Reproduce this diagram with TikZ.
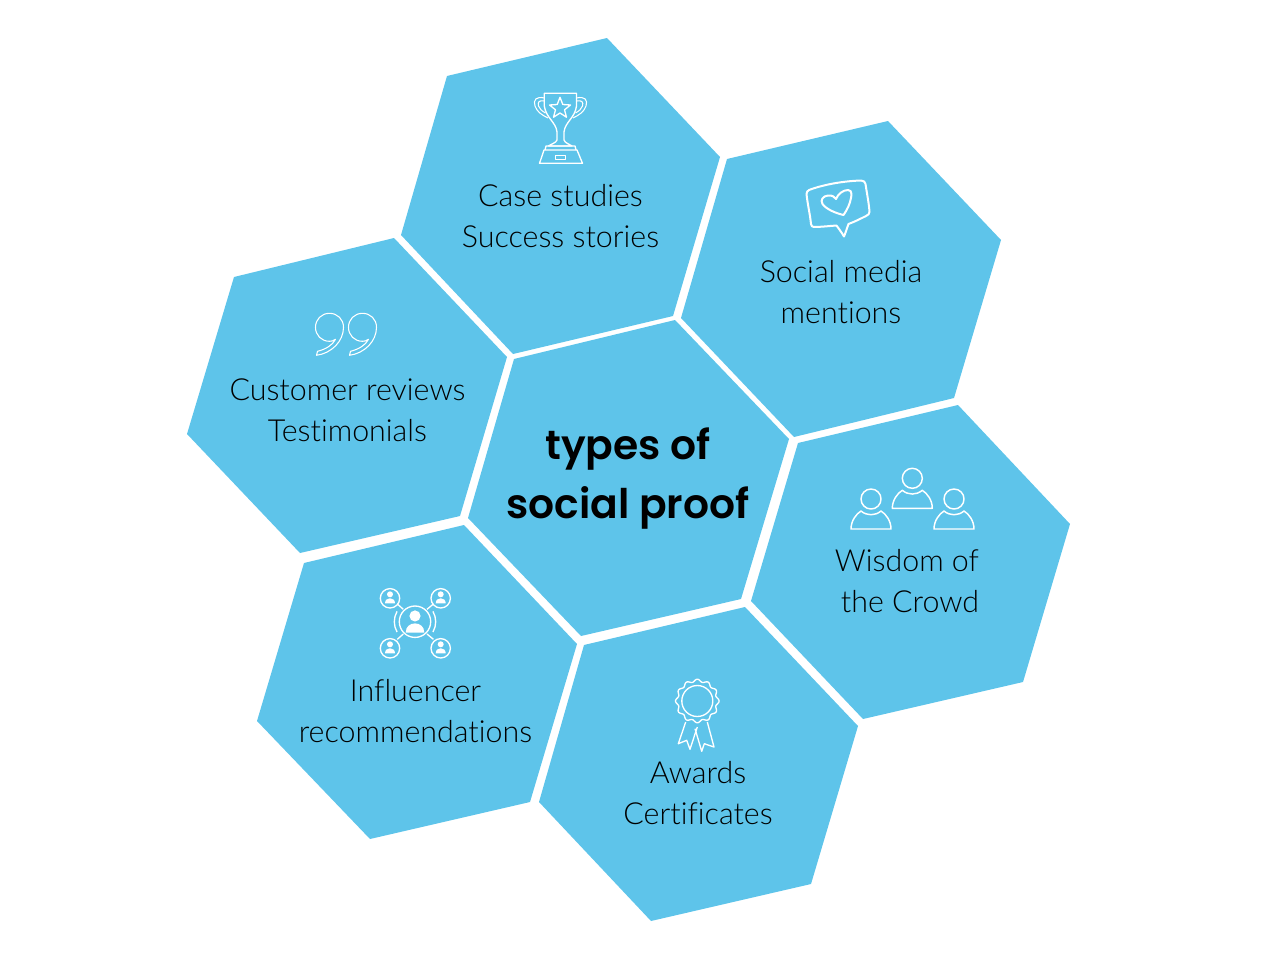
\documentclass[tikz,border=0pt]{standalone}
\usepackage{fontspec}
\setmainfont{Lato Light}[Ligatures=NoCommon]
\newfontfamily\titlefont{Poppins SemiBold}
\definecolor{cellblue}{HTML}{5EC4EA}
\newcommand{\personicon}[2]{%
	\draw[iconline, line width=1.1pt] (#1,#2) circle (10);
	\draw[iconline, line width=1.1pt] (#1-20,#2+30) .. controls (#1-20,#2+22) and (#1-15,#2+15) .. (#1-10,#2+12) .. controls (#1-4,#2+17) and (#1+4,#2+17) .. (#1+10,#2+12) .. controls (#1+15,#2+15) and (#1+20,#2+22) .. (#1+20,#2+30) -- cycle;
}
\newcommand{\tinyperson}[3]{%
	\fill[white] (#1,#2-0.8*#3) circle (0.6*#3);
	\fill[white] (#1-#3,#2+#3) .. controls (#1-#3,#2+0.3*#3) and (#1-0.5*#3,#2) .. (#1,#2) .. controls (#1+0.5*#3,#2) and (#1+#3,#2+0.3*#3) .. (#1+#3,#2+#3) -- cycle;
}
\newcommand{\quotemark}[2]{%
	\draw[iconthin] (#1-13,#2+28) .. controls (#1+2,#2+26) and (#1+14,#2+14) .. (#1+14,#2) .. controls (#1+14,#2-8) and (#1+8,#2-14) .. (#1,#2-14) .. controls (#1-8,#2-14) and (#1-14,#2-8) .. (#1-14,#2) .. controls (#1-14,#2+8) and (#1-8,#2+14) .. (#1,#2+14) .. controls (#1+2,#2+14) and (#1+4,#2+13.5) .. (#1+6,#2+12) .. controls (#1+3,#2+18) and (#1-4,#2+22) .. (#1-12,#2+24) -- cycle;
}
\begin{document}
\begin{tikzpicture}[x=0.75pt, y=-0.75pt,
	hexcell/.style={fill=cellblue, draw=none},
	celltext/.style={align=center, text=black, font=\fontsize{22.8}{30.75}\selectfont, inner sep=0pt},
	iconline/.style={draw=white, line width=1pt, line join=round},
	iconthin/.style={draw=white, line width=0.8pt, line join=round}]
	\useasboundingbox (0,0) rectangle (1280,960);

	\filldraw[hexcell] (447,76) -- (607,38) -- (720,157) -- (673,316) -- (513,354) -- (401,235) -- cycle;
	\filldraw[hexcell] (727,159) -- (888,121) -- (1001,240) -- (954,398) -- (794,437) -- (681,318) -- cycle;
	\filldraw[hexcell] (234,277) -- (394,238) -- (507,357) -- (460,516) -- (300,553) -- (187,434) -- cycle;
	\filldraw[hexcell] (514,359) -- (675,320) -- (789,439) -- (741,599) -- (581,636) -- (468,518) -- cycle;
	\filldraw[hexcell] (798,443) -- (958,405) -- (1070,524) -- (1023,682) -- (863,719) -- (751,601) -- cycle;
	\filldraw[hexcell] (304,563) -- (464,525) -- (577,644) -- (530,802) -- (370,839) -- (257,721) -- cycle;
	\filldraw[hexcell] (584,645) -- (745,607) -- (858,726) -- (811,884) -- (651,921) -- (539,802) -- cycle;

	\node[align=center, inner sep=0pt, font=\titlefont\fontsize{30.6}{44.25}\selectfont] (title) at (628,478) {types of\\social proof};
	\node[celltext] (cases) at (560.5,216.5) {Case studies\\Success stories};
	\node[celltext] (social) at (841,292.5) {Social media\\mentions};
	\node[celltext] (reviews) at (347.5,410.5) {Customer reviews\\Testimonials};
	\node[celltext] (crowd) at (910,581.5) {Wisdom of\hspace*{4.5pt}\\the Crowd};
	\node[celltext] (influencer) at (415.5,711.5) {Influencer\\recommendations};
	\node[celltext] (awards) at (698,793.5) {Awards\\Certificates};

	% trophy
	\draw[iconline] (544.3,93.3) -- (576.5,93.3) -- (576.5,106) .. controls (575,118) and (565,122) .. (564,132) -- (564,140) .. controls (565,143) and (569,144) .. (572,146) -- (548.5,146) .. controls (551,144) and (556,143) .. (557,140) -- (557,132) .. controls (556,122) and (546,118) .. (544.3,106) -- cycle;
	\draw[iconline, line width=0.8pt] (544.5,98) .. controls (536,96) and (533,100) .. (535,106) .. controls (537,112) and (542,115) .. (548,118);
	\draw[iconline, line width=0.8pt] (544.5,101) .. controls (539,100) and (537.5,102) .. (538.5,106) .. controls (539.5,109) and (542,111) .. (545.5,113);
	\draw[iconline, line width=0.8pt] (576.5,98) .. controls (585,96) and (588,100) .. (586,106) .. controls (584,112) and (579,115) .. (573,118);
	\draw[iconline, line width=0.8pt] (576.5,101) .. controls (582,100) and (583.5,102) .. (582.5,106) .. controls (581.5,109) and (579,111) .. (575.5,113);
	\draw[iconline] (545,150) -- (546,146) -- (575,146) -- (576,150);
	\draw[iconline] (544,150) -- (577,150) -- (582.5,163.3) -- (539.5,163.3) -- cycle;
	\draw[iconline, line width=0.8pt] (555.3,155.3) rectangle (565.7,159.3);
	\draw[iconline] (560,97.3) -- (562.8,104.5) -- (570.5,105) -- (564.5,109.8) -- (566.5,117.2) -- (560,113) -- (553.5,117.2) -- (555.5,109.8) -- (549.5,105) -- (557.2,104.5) -- cycle;

	% speech bubble with heart
	\draw[iconline, line width=1.5pt] (809,190) .. controls (825,184) and (845,181) .. (861,180.5) .. controls (864,180.5) and (865,182) .. (865.5,184) .. controls (867,194) and (869,204) .. (869.5,212) .. controls (869.5,214) and (868,215) .. (866,216) .. controls (860,219) and (854,222) .. (848.5,224) .. controls (847,228) and (845.5,233) .. (844,236.5) .. controls (842,233) and (839,229) .. (836.5,225.5) .. controls (829,226) and (821,227) .. (814,227) .. controls (812,227) and (811.5,226) .. (811,224) .. controls (810,214) and (807.5,204) .. (806.5,194) .. controls (806.5,192) and (807.5,191) .. (809,190) -- cycle;
	\draw[iconline, line width=1.5pt] (843.5,215) .. controls (835,213) and (826,209) .. (822.5,204) .. controls (820,200) and (823,196) .. (828,195.5) .. controls (832,195) and (835,197) .. (836,199) .. controls (838,194) and (843,190) .. (848,190) .. controls (853,190) and (851,197) .. (851,198) .. controls (850,204) and (847,210) .. (843.5,215) -- cycle;

	% quotation marks
	\quotemark{329.5}{327.3}
	\quotemark{362.5}{327.3}

	% crowd
	\personicon{912.3}{478.3}
	\personicon{871}{499}
	\personicon{954}{499}

	% network of people
	\draw[iconline] (415,621.7) circle (15.7);
	\draw[iconline] (415,621.7) ++(150:20.7) arc (150:210:20.7);
	\draw[iconline] (415,621.7) ++(-30:20.7) arc (-30:30:20.7);
	\foreach \cx/\cy in {390/598.3, 440.7/598.3, 390/648.3, 440.7/648.3} {
		\draw[iconline] (\cx,\cy) circle (9.7);
		\tinyperson{\cx}{\cy}{5}
	}
	\draw[iconline] (397.3,604) -- (403.3,609.3);
	\draw[iconline] (433.4,604) -- (427,609.3);
	\draw[iconline] (397.3,639.3) -- (403.3,634);
	\draw[iconline] (433.4,639.3) -- (427,634);
	\tinyperson{415}{623.4}{9.3}

	% rosette
	\draw[iconline] (697.3,701) circle (15.5);
	\draw[iconline] plot[domain=0:360, samples=144, smooth cycle] ({697.3+(20.5+1.3*cos(12*\x))*cos(\x)},{701+(20.5+1.3*cos(12*\x))*sin(\x)});
	\draw[iconline] (685.7,722) -- (678.3,743.7) -- (686.7,740.3) -- (690,749.3) -- (697.3,727);
	\draw[iconline] (707.3,722) -- (714,747) -- (704.3,743.7) -- (701.7,751.3) -- (695,728.7);
\end{tikzpicture}
\end{document}
